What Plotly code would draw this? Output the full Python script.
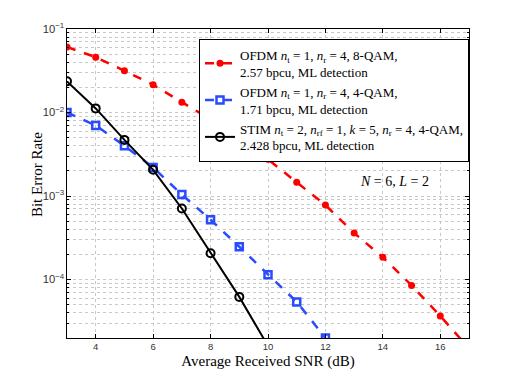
import plotly.graph_objects as go

snr = [3, 4, 5, 6, 7, 8, 9, 10, 11, 12, 13, 14, 15, 16, 17]
ber_ofdm_8qam = [0.061, 0.046, 0.0316, 0.0215, 0.0133, 0.0083, 0.0048, 0.00275, 0.00146,
                 0.00078, 0.00036, 0.000185, 8.5e-5, 3.66e-5, 1.5e-5]
snr_4qam = [3, 4, 5, 6, 7, 8, 9, 10, 11, 12]
ber_ofdm_4qam = [0.01, 0.007, 0.004, 0.0022, 0.00104, 0.00052, 0.000247, 0.000114, 5.4e-5, 2.0e-5]
snr_stim = [3, 4, 5, 6, 7, 8, 9, 10]
ber_stim = [0.0236, 0.0112, 0.0047, 0.00206, 0.00071, 0.000206, 6.2e-5, 1.6e-5]

x_ticks = [4, 6, 8, 10, 12, 14, 16]

serif = 'Liberation Serif, Times New Roman, serif'
sans = 'Liberation Sans, Arial, sans-serif'

fig = go.Figure()

fig.add_trace(go.Scatter(
    x=snr, y=ber_ofdm_8qam, mode='lines+markers',
    name='OFDM <i>n</i><sub>t</sub> = 1, <i>n</i><sub>r</sub> = 4, 8-QAM,<br>2.57 bpcu, ML detection',
    line=dict(color='#ff0000', width=2.5, dash='dash'),
    marker=dict(symbol='circle', size=7, color='#ff0000')
))

fig.add_trace(go.Scatter(
    x=snr_4qam, y=ber_ofdm_4qam, mode='lines+markers',
    name='OFDM <i>n</i><sub>t</sub> = 1, <i>n</i><sub>r</sub> = 4, 4-QAM,<br>1.71 bpcu, ML detection',
    line=dict(color='#2a4bff', width=2.5, dash='dash'),
    marker=dict(symbol='square-open', size=7, color='#2a4bff', line=dict(width=2.5))
))

fig.add_trace(go.Scatter(
    x=snr_stim, y=ber_stim, mode='lines+markers',
    name='STIM <i>n</i><sub>t</sub> = 2, <i>n</i><sub>rf</sub> = 1, <i>k</i> = 5, <i>n</i><sub>r</sub> = 4, 4-QAM,<br>2.428 bpcu, ML detection',
    line=dict(color='black', width=2),
    marker=dict(symbol='circle-open', size=8, color='black', line=dict(width=2))
))

fig.add_annotation(
    x=14.42, y=-2.83, xref='x', yref='y',
    text='<i>N</i> = 6, <i>L</i> = 2', showarrow=False,
    font=dict(family=serif, size=14, color='black')
)

# y title placed by hand, a little closer to the tick labels
fig.add_annotation(
    x=-0.075, y=0.53, xref='paper', yref='paper',
    xanchor='center', yanchor='middle',
    text='Bit Error Rate', textangle=-90, showarrow=False,
    font=dict(family=serif, size=15, color='black')
)

fig.update_xaxes(
    range=[3, 17], tickvals=x_ticks,
    title=dict(text='Average Received SNR (dB)', font=dict(family=serif, size=15, color='black'), standoff=4),
    tickfont=dict(family=sans, size=9.5, color='#333333'),
    showline=True, linecolor='black', linewidth=1, mirror='ticks',
    ticks='inside', ticklen=4, tickcolor='black',
    showgrid=True, gridcolor='#c8c8c8', griddash='dot', gridwidth=1,
    zeroline=False
)

fig.update_yaxes(
    type='log', range=[-4.7, -1],
    dtick=1, exponentformat='power', showexponent='all',
    tickfont=dict(family=sans, size=9, color='#333333'),
    showline=True, linecolor='black', linewidth=1, mirror='ticks',
    ticks='inside', ticklen=4, tickcolor='black',
    showgrid=True, gridcolor='#c8c8c8', griddash='dot', gridwidth=1,
    minor=dict(dtick='D1', ticks='inside', ticklen=2, tickcolor='black', showgrid=True,
               gridcolor='#c8c8c8', griddash='dot', gridwidth=1),
    zeroline=False
)

fig.update_layout(
    width=519, height=381,
    paper_bgcolor='white', plot_bgcolor='white',
    margin=dict(l=59, r=58, t=21, b=51),
    showlegend=True,
    legend=dict(
        x=1, y=0.968, xanchor='right', yanchor='top',
        bgcolor='white', bordercolor='black', borderwidth=1,
        font=dict(family=serif, size=13, color='black'),
        tracegroupgap=0, itemwidth=30
    )
)

fig.write_html("out.html")
